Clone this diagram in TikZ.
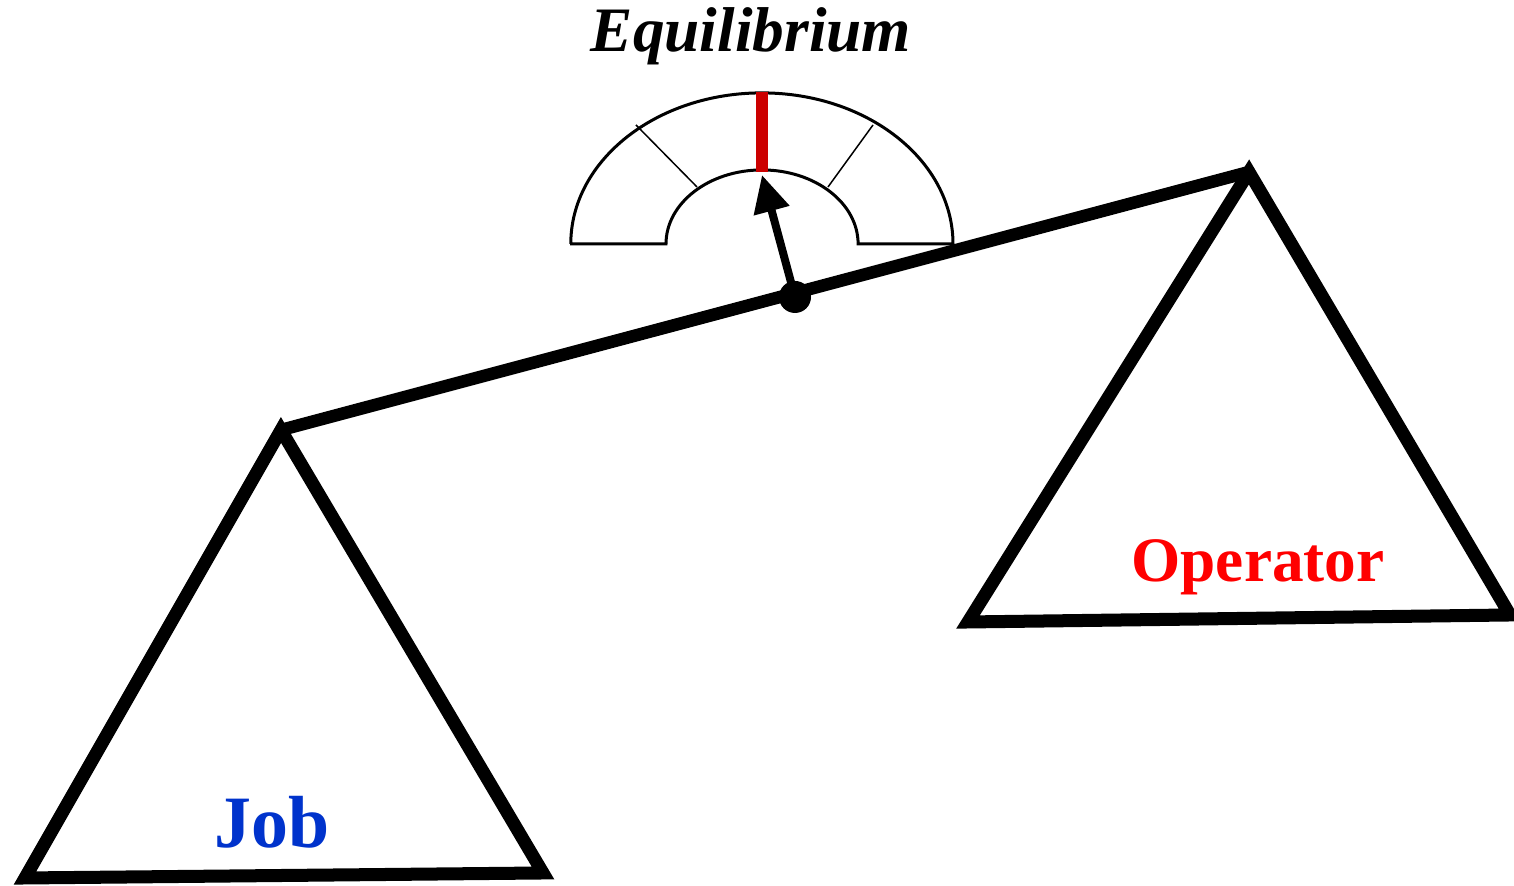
\documentclass[tikz,border=0pt]{standalone}
\usepackage{fontspec}
\setmainfont{Liberation Serif}
\usepackage{xcolor}
\usetikzlibrary{arrows.meta,positioning,calc}
\definecolor{jobblue}{HTML}{0033CC}
\definecolor{oprred}{HTML}{FF0000}
\definecolor{markred}{HTML}{CC0000}

\begin{document}
\begin{tikzpicture}[
  x=0.01cm, y=0.01cm,
  pan/.style={draw=black, line width=0.13cm, miter limit=20},
  beam/.style={black, line width=0.125cm},
  dial/.style={draw=black, fill=white, line width=0.03cm},
  tick/.style={black, line width=0.015cm},
  needle/.style={-{Triangle[length=3.7mm,width=3.5mm]}, black, line width=0.08cm},
  lbl/.style={anchor=base, inner sep=0pt, font=\bfseries}
]
  \useasboundingbox (0,0) rectangle (1514,886);

  % pans
  \coordinate (jtop) at (281,456);
  \coordinate (jbl) at (25,8);
  \coordinate (jbr) at (543,13);
  \coordinate (otop) at (1249,714);
  \coordinate (obl) at (968,264);
  \coordinate (obr) at (1510,271);
  \draw[pan] (jtop) -- (jbl) -- (jbr) -- cycle;
  \draw[pan] (otop) -- (obl) -- (obr) -- cycle;

  % gauge
  \coordinate (gc) at (762,642);
  \draw[dial] (570,642) -- (666,642)
    arc[start angle=180, end angle=0, x radius=0.96cm, y radius=0.74cm]
    -- (953,642)
    arc[start angle=0, end angle=180, x radius=1.91cm, y radius=1.51cm] -- cycle;
  \draw[tick] (636,761) -- (697,699);
  \draw[tick] (873,761) -- (828,699);
  \coordinate (mtop) at (762,794);
  \coordinate (mbot) at (762,714);
  \draw[markred, line width=0.12cm] (mtop) -- (mbot);

  % beam and pivot
  \coordinate (piv) at (795,589);
  \coordinate (tip) at (762,711);
  \draw[beam] (jtop) -- (otop);
  \draw[needle] (piv) -- (tip);
  \fill[black] (piv) circle[radius=0.16cm];

  % labels
  \node[lbl, font=\bfseries\itshape\fontsize{18}{20}\selectfont] (eq) at (751,834) {Equilibrium};
  \node[lbl, text=jobblue, font=\bfseries\fontsize{21}{24}\selectfont] (job) at (272,38) {Job};
  \node[lbl, text=oprred, font=\bfseries\fontsize{18}{20}\selectfont] (opr) at (1258,304) {Operator};
\end{tikzpicture}
\end{document}
